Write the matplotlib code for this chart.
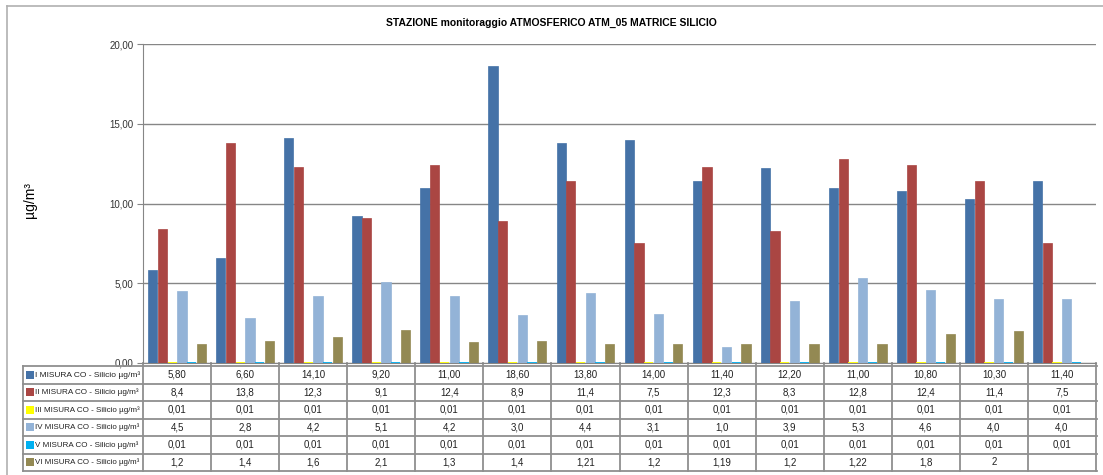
import matplotlib.pyplot as plt
from matplotlib.lines import Line2D
from matplotlib.patches import Rectangle
from matplotlib.transforms import blended_transform_factory
import numpy as np

plt.rcParams['font.family'] = ['Liberation Sans', 'DejaVu Sans']

# data
series_names = ['I MISURA CO - Silicio µg/m³', 'II MISURA CO - Silicio µg/m³',
                'III MISURA CO - Silicio µg/m³', 'IV MISURA CO - Silicio µg/m³',
                'V MISURA CO - Silicio µg/m³', 'VI MISURA CO - Silicio µg/m³']
mis_1 = [5.80, 6.60, 14.10, 9.20, 11.00, 18.60, 13.80, 14.00, 11.40, 12.20, 11.00, 10.80, 10.30, 11.40]
mis_2 = [8.4, 13.8, 12.3, 9.1, 12.4, 8.9, 11.4, 7.5, 12.3, 8.3, 12.8, 12.4, 11.4, 7.5]
mis_3 = [0.01] * 14
mis_4 = [4.5, 2.8, 4.2, 5.1, 4.2, 3.0, 4.4, 3.1, 1.0, 3.9, 5.3, 4.6, 4.0, 4.0]
mis_5 = [0.01] * 14
mis_6 = [1.2, 1.4, 1.6, 2.1, 1.3, 1.4, 1.21, 1.2, 1.19, 1.2, 1.22, 1.8, 2, None]
y_ticks = [0, 5, 10, 15, 20]

all_series = [mis_1, mis_2, mis_3, mis_4, mis_5, mis_6]
formats = ['{:.2f}', '{:.1f}', '{:.2f}', '{:.1f}', '{:.2f}', '{:g}']
colors = ['#4572A7', '#AA4643', '#FFFF00', '#93B3D7', '#00B0F0', '#938953']
edge_w = [0.5, 0.5, 1.3, 0.5, 1.3, 0.5]  # tiny values need a visible edge

W, H = 1103, 475
fig = plt.figure(figsize=(W / 100, H / 100), dpi=100)
narrow = ['Liberation Sans Narrow', 'DejaVu Sans Condensed', 'Liberation Sans']

def fx(px):
    return px / W

def fy(py):
    return 1 - py / H

# outer chart frame (top and left)
fig.add_artist(Line2D([fx(7), 1], [fy(6), fy(6)], color='#b0b0b0', lw=1.2))
fig.add_artist(Line2D([fx(7), fx(7)], [fy(6), 0], color='#b0b0b0', lw=1.2))

left, right, top, bottom = 143, 1096, 44, 363
ax = fig.add_axes([fx(left), fy(bottom), fx(right - left), (bottom - top) / H])

n = len(mis_1)
x = np.arange(n)
bw = 0.143
for i, (vals, c, lw) in enumerate(zip(all_series, colors, edge_w)):
    xs = [xi + (i - 2.5) * bw for xi, v in zip(x, vals) if v is not None]
    vs = [v for v in vals if v is not None]
    ax.bar(xs, vs, width=bw * 0.95, color=c, edgecolor=c, linewidth=lw, zorder=3)

ax.set_xlim(-0.5, n - 0.5)
ax.set_ylim(0, 20)
ax.set_yticks(y_ticks)
ax.set_yticklabels([('%.2f' % t).replace('.', ',') for t in y_ticks], fontsize=7, color='#333333')
ax.set_xticks([])
ax.grid(axis='y', color='#868686', lw=1, zorder=0)
for s in ['top', 'right']:
    ax.spines[s].set_visible(False)
for s in ['left', 'bottom']:
    ax.spines[s].set_color('#868686')
ax.tick_params(axis='y', length=4, color='#868686', pad=3)

fig.text(fx(30), fy(200), 'µg/m³', rotation=90, ha='center', va='center', fontsize=10)

fig.text(0.5, fy(23), 'STAZIONE monitoraggio ATMOSFERICO ATM_05 MATRICE SILICIO',
         ha='center', va='center', fontsize=7.5, fontweight='bold')

# data table below the plot
tr = blended_transform_factory(ax.transData, fig.transFigure)
tab_left, tab_top, row_h = 23, 366, 17.5
grid_c = '#8f8f8f'
n_rows = len(all_series)
for r in range(n_rows + 1):
    yy = fy(tab_top + r * row_h)
    fig.add_artist(Line2D([fx(tab_left), fx(right + 1)], [yy, yy], color=grid_c, lw=1.3))
fig.add_artist(Line2D([fx(tab_left), fx(tab_left)], [fy(tab_top), fy(tab_top + n_rows * row_h)],
                      color=grid_c, lw=1.3))
for k in range(n + 1):
    ax.add_artist(Line2D([k - 0.5, k - 0.5], [fy(bottom), fy(tab_top + n_rows * row_h)],
                         color=grid_c, lw=1.3, transform=tr, clip_on=False))

renderer = fig.canvas.get_renderer()
for r, (name, vals, fmt, c) in enumerate(zip(series_names, all_series, formats, colors)):
    yc = fy(tab_top + (r + 0.5) * row_h)
    fig.add_artist(Rectangle((fx(26), yc - 4 / H), 8 / W, 8 / H, facecolor=c, edgecolor='none'))
    t = fig.text(fx(35), yc, name, ha='left', va='center', fontsize=7,
                 family=narrow, color='#222222')
    # shrink the row label until it fits in the header column
    w = t.get_window_extent(renderer).width
    if w > 104:
        t.set_fontsize(7 * 104 / w)
    for k, v in enumerate(vals):
        if v is None:
            continue
        ax.text(k, yc, fmt.format(v).replace('.', ','), transform=tr, ha='center', va='center',
                fontsize=7, family=narrow, color='#222222', clip_on=False)

fig.savefig('out.png', dpi=100)
